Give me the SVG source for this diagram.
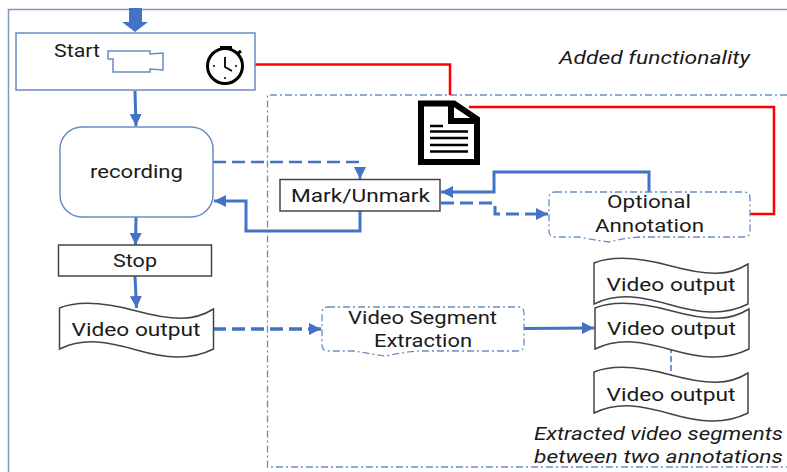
<svg xmlns="http://www.w3.org/2000/svg" width="787" height="472" viewBox="0 0 787 472">
<style>
text{font-family:Roboto,"Open Sans","Liberation Sans",sans-serif;fill:#1a1a1a;font-size:19px;text-anchor:middle}
.it{font-style:italic}
.bl{fill:none;stroke:#4472c4;stroke-width:3}
.da{stroke-dasharray:13 6}
.red{fill:none;stroke:#ff0000;stroke-width:2.5}
.box{fill:#fff;stroke:#444;stroke-width:1.5}
.opt{fill:#fff;stroke:#6c8ebf;stroke-width:1.3;stroke-dasharray:7 3 2 3}
.blbox{fill:#fff;stroke:#6a8cc6;stroke-width:1.5}
</style>
<defs>
<marker id="a" markerUnits="userSpaceOnUse" markerWidth="13" markerHeight="12" refX="12" refY="6" orient="auto"><path d="M0 0L12 6L0 12Z" fill="#4472c4"/></marker>
<path id="w" d="M0 5C15 -1 40 -2 77 8S135 18 154 6V46C130 58 105 55 77 47S25 34 0 46Z"/>
</defs>
<rect width="787" height="472" fill="#fff"/>
<path d="M8.500 472V9.500H787" fill="none" stroke="#7f97c6" stroke-width="1.500"/>
<path id="frame" d="M787 95H267.500V467H787" fill="none" stroke="#6c8ebf" stroke-width="1.300" stroke-dasharray="7 3 2 3"/>
<g id="connectors">
<path d="M129 8H142V22H148L135 32L122 22H129Z" fill="#4472c4"/>
<path class="red" d="M255 64.500H450V95"/>
<path class="red" d="M469 107H774V214H750"/>
<path class="bl" d="M135 91L136 126" marker-end="url(#a)"/>
<path class="bl" d="M136 217L135.500 245" marker-end="url(#a)"/>
<path class="bl" d="M135 276L136.500 308" marker-end="url(#a)"/>
<path class="bl da" d="M213 162H360V179" marker-end="url(#a)" style="stroke-width:2.500"/>
<path class="bl" d="M360 211V231H246V201H214" marker-end="url(#a)"/>
<path class="bl" d="M649 192V172H494V192H441" marker-end="url(#a)"/>
<path class="bl da" d="M441 203H495V214H548" marker-end="url(#a)"/>
<path class="bl da" d="M213 329H321" marker-end="url(#a)" style="stroke-width:3.500"/>
<path class="bl" d="M524 328.500L594 328" marker-end="url(#a)"/>
<path d="M671 347V376" fill="none" stroke="#4472c4" stroke-width="1.500" stroke-dasharray="6 3"/>
</g>
<g id="start">
<rect class="blbox" x="16" y="33" width="239" height="57"/>
<text x="77" y="57" textLength="46" lengthAdjust="spacingAndGlyphs">Start</text>
<path d="M108 51H150V54L163 53V70L150 69V72H113V59H108Z" fill="#fff" stroke="#6a8cc6" stroke-width="1.500"/>
<g id="stopwatch" fill="none" stroke="#000">
<circle cx="225" cy="66" r="17.500" stroke-width="3"/>
<path d="M220 47.500H232M226 47.500V50" stroke-width="3"/>
<path d="M237 54L241 51" stroke-width="3"/>
<path d="M225 57V67L232 71" stroke-width="1.800"/>
<path d="M225 77V79M213 66H215M235 66H237" stroke-width="1.500"/>
</g>
</g>
<g id="recording">
<rect class="blbox" x="60" y="127" width="153" height="90" rx="22"/>
<text x="136.500" y="178" textLength="93" lengthAdjust="spacingAndGlyphs">recording</text>
</g>
<g id="stop">
<rect class="box" x="58.500" y="245" width="153" height="31"/>
<text x="135" y="267" textLength="44" lengthAdjust="spacingAndGlyphs">Stop</text>
</g>
<g id="video-output">
<use href="#w" x="59.500" y="303" class="box"/>
<text x="136" y="336" textLength="129" lengthAdjust="spacingAndGlyphs">Video output</text>
</g>
<g id="doc">
<path d="M421 103.500H454L477 119V162H421Z" fill="#fff" stroke="#000" stroke-width="6"/>
<path d="M451 103.500V121H478" fill="none" stroke="#000" stroke-width="6"/>
<path d="M430 126H443M430 131.500H468M430 138H468M430 145H468M430 151.500H468" stroke="#000" stroke-width="2.500" fill="none"/>
</g>
<g id="mark">
<rect class="box" x="280" y="179.500" width="160" height="31.500"/>
<text x="360.500" y="202" textLength="139" lengthAdjust="spacingAndGlyphs">Mark/Unmark</text>
</g>
<g id="annotation">
<path class="opt" d="M555 192H744Q750 192 750 198V231Q750 237 744 237H640Q625 238 609 242Q594 240 579 237H555Q549 237 549 231V198Q549 192 555 192Z"/>
<text x="649" y="208" textLength="84" lengthAdjust="spacingAndGlyphs">Optional</text>
<text x="649.500" y="232" textLength="109" lengthAdjust="spacingAndGlyphs">Annotation</text>
</g>
<g id="segment">
<path class="opt" d="M328 307H518Q524 307 524 313V345Q524 351 518 351H420Q403 352 386 356Q370 354 355 351H328Q322 351 322 345V313Q322 307 328 307Z"/>
<text x="422.500" y="324" textLength="149" lengthAdjust="spacingAndGlyphs">Video Segment</text>
<text x="423" y="347" textLength="98" lengthAdjust="spacingAndGlyphs">Extraction</text>
</g>
<g id="video-1">
<use href="#w" x="594" y="258" class="box"/>
<text x="671" y="291" textLength="129" lengthAdjust="spacingAndGlyphs">Video output</text>
</g>
<g id="video-2">
<use href="#w" x="595" y="303" class="box"/>
<text x="671.500" y="335" textLength="129" lengthAdjust="spacingAndGlyphs">Video output</text>
</g>
<g id="video-3">
<use href="#w" x="594" y="367" class="box"/>
<text x="671" y="401" textLength="129" lengthAdjust="spacingAndGlyphs">Video output</text>
</g>
<text class="it" x="654.500" y="64" textLength="191" lengthAdjust="spacingAndGlyphs">Added functionality</text>
<text class="it" x="658.500" y="440" textLength="249" lengthAdjust="spacingAndGlyphs">Extracted video segments</text>
<text class="it" x="658.500" y="463" textLength="249" lengthAdjust="spacingAndGlyphs">between two annotations</text>
</svg>
